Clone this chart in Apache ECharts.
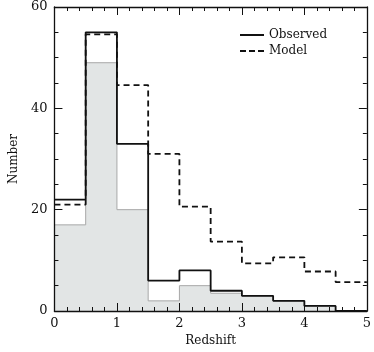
<!DOCTYPE html>
<html>
<head>
<meta charset="utf-8">
<script src="https://cdn.jsdelivr.net/npm/echarts@6/dist/echarts.min.js"></script>
<style>
  html, body { margin: 0; padding: 0; background: #fff; }
  #chart { width: 374px; height: 352px; }
</style>
</head>
<body>
<div id="chart"></div>
<script>
// left edges of the redshift bins (width 0.5)
var binEdges = [0, 0.5, 1, 1.5, 2, 2.5, 3, 3.5, 4, 4.5];
var binWidth = 0.5;
var observed = [22, 55, 33, 6, 8, 4, 3, 2, 1, 0];
var model = [21, 54.6, 44.6, 31, 20.6, 13.7, 9.4, 10.6, 7.8, 5.7];
var subset = [17, 49, 20, 2, 5, 3.5, 3, 2, 1, 0];
var xTicks = [0, 1, 2, 3, 4, 5];
var yTicks = [0, 20, 40, 60];

// step points: one at each left edge, plus the right edge of the last bin
function steps(vals) {
  var pts = binEdges.map(function (x, i) { return [x, vals[i]]; });
  pts.push([binEdges[binEdges.length - 1] + binWidth, vals[vals.length - 1]]);
  return pts;
}

var font = 'DejaVu Serif';
var chart = echarts.init(document.getElementById('chart'));

function xAxisCfg(pos, labels) {
  return {
    type: 'value', position: pos, z: 10,
    min: xTicks[0], max: xTicks[xTicks.length - 1], interval: 1,
    axisLine: { show: true, onZero: false, lineStyle: { color: '#111', width: 1.3 } },
    axisTick: { show: true, inside: true, length: 8, lineStyle: { color: '#111' } },
    minorTick: { show: true, splitNumber: 5, length: 4, lineStyle: { color: '#111' } },
    splitLine: { show: false },
    axisLabel: { show: labels, color: '#111', fontFamily: font, fontSize: 13, margin: 6 },
    name: labels ? 'Redshift' : '', nameLocation: 'middle', nameGap: 24,
    nameTextStyle: { color: '#111', fontFamily: font, fontSize: 12 }
  };
}
function yAxisCfg(pos, labels) {
  return {
    type: 'value', position: pos, z: 10,
    min: yTicks[0], max: yTicks[yTicks.length - 1], interval: 20,
    axisLine: { show: true, onZero: false, lineStyle: { color: '#111', width: 1.3 } },
    axisTick: { show: true, inside: true, length: 8, lineStyle: { color: '#111' } },
    minorTick: { show: true, splitNumber: 4, length: 4, lineStyle: { color: '#111' } },
    splitLine: { show: false },
    axisLabel: { show: labels, color: '#111', fontFamily: font, fontSize: 13, margin: 7 },
    name: labels ? 'Number' : '', nameLocation: 'middle', nameGap: 34, nameRotate: 90,
    nameTextStyle: { color: '#111', fontFamily: font, fontSize: 12 }
  };
}

chart.setOption({
  animation: false,
  grid: { left: 52, right: 7, top: 7, bottom: 31 },
  xAxis: [xAxisCfg('bottom', true), xAxisCfg('top', false)],
  yAxis: [yAxisCfg('left', true), yAxisCfg('right', false)],
  legend: {
    orient: 'vertical', left: 235, top: 24,
    itemWidth: 24, itemHeight: 2, itemGap: 4,
    data: [
      { name: 'Observed', icon: 'path://M0,0h24v2h-24z' },
      { name: 'Model', icon: 'path://M0,0h6v2h-6zM9,0h6v2h-6zM18,0h6v2h-6z' }
    ],
    itemStyle: { color: '#111' },
    textStyle: { color: '#111', fontFamily: font, fontSize: 12 }
  },
  series: [
    {
      name: 'Subset', type: 'line', step: 'end', symbol: 'none', z: 1,
      data: steps(subset),
      lineStyle: { color: '#a8a8a8', width: 1 },
      areaStyle: { color: '#e2e5e5', opacity: 1 }
    },
    {
      name: 'Model', type: 'line', step: 'end', symbol: 'none', z: 3,
      data: steps(model),
      lineStyle: { color: '#111', width: 1.8, type: [6, 4] },
      itemStyle: { color: '#111' }
    },
    {
      name: 'Observed', type: 'line', step: 'end', symbol: 'none', z: 4,
      data: steps(observed),
      lineStyle: { color: '#111', width: 1.8 },
      itemStyle: { color: '#111' }
    }
  ]
});
</script>
</body>
</html>
